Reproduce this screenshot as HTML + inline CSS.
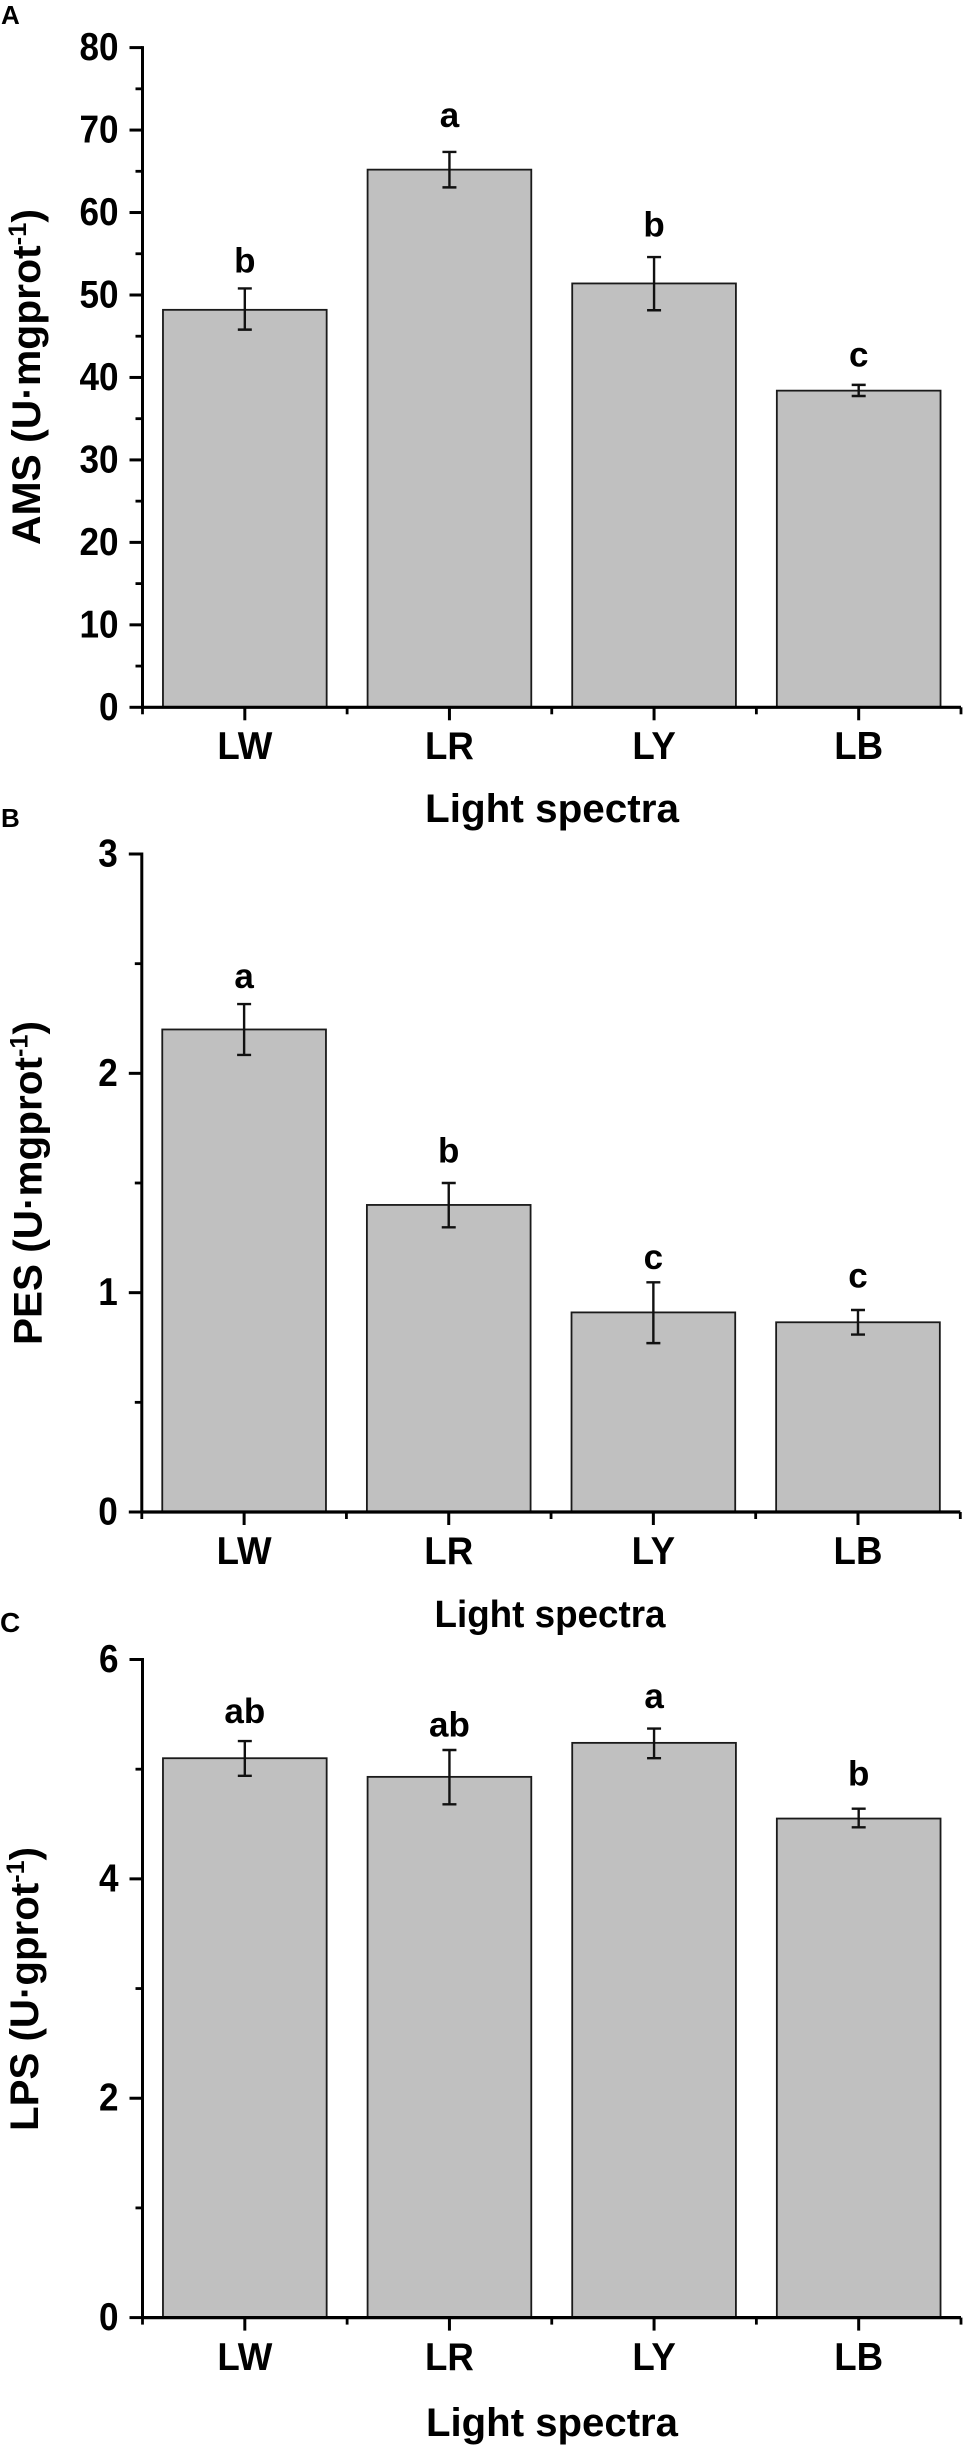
<!DOCTYPE html>
<html lang="en">
<head>
<meta charset="utf-8">
<title>Enzyme activity under light spectra</title>
<style>
html,body{margin:0;padding:0;background:#fff;}
svg{display:block;}
text{font-family:"Liberation Sans",Arial,sans-serif;font-weight:700;fill:#000;}
</style>
</head>
<body>
<svg id="figure" xmlns="http://www.w3.org/2000/svg" width="963" height="2445" viewBox="0 0 963 2445">
  <rect x="0" y="0" width="963" height="2445" fill="#fff"/>
  <text x="1" y="24" font-size="26">A</text>
  <text x="1" y="827" font-size="26">B</text>
  <text x="0" y="1632" font-size="28">C</text>

  <text transform="translate(40,377) rotate(-90)" text-anchor="middle" font-size="40" textLength="336" lengthAdjust="spacingAndGlyphs">AMS (U·mgprot<tspan dy="-14" font-size="25">-1</tspan><tspan dy="14">)</tspan></text>
  <text transform="translate(41.5,1183) rotate(-90)" text-anchor="middle" font-size="40" textLength="324" lengthAdjust="spacingAndGlyphs">PES (U·mgprot<tspan dy="-14" font-size="25">-1</tspan><tspan dy="14">)</tspan></text>
  <text transform="translate(38,1989) rotate(-90)" text-anchor="middle" font-size="40" textLength="284" lengthAdjust="spacingAndGlyphs">LPS (U·gprot<tspan dy="-14" font-size="25">-1</tspan><tspan dy="14">)</tspan></text>

  <text x="552" y="822" text-anchor="middle" font-size="40" textLength="254" lengthAdjust="spacingAndGlyphs">Light spectra</text>
  <text x="550" y="1627" text-anchor="middle" font-size="38" textLength="231" lengthAdjust="spacingAndGlyphs">Light spectra</text>
  <text x="552" y="2436" text-anchor="middle" font-size="40" textLength="252" lengthAdjust="spacingAndGlyphs">Light spectra</text>
</svg>
<script>
// Shared categories
const categories = ['LW', 'LR', 'LY', 'LB'];

// Panel A: AMS
const amsTicks = [0, 10, 20, 30, 40, 50, 60, 70, 80];
const amsValues = [48.2, 65.2, 51.4, 38.4];
const amsErrLow = [45.8, 63.05, 48.15, 37.75];
const amsErrHigh = [50.8, 67.35, 54.6, 39.1];
const amsLetters = ['b', 'a', 'b', 'c'];
const amsLetterAt = [52.7, 70.4, 57.1, 41.3];

// Panel B: PES
const pesTicks = [0, 1, 2, 3];
const pesValues = [2.2, 1.4, 0.91, 0.865];
const pesErrLow = [2.084, 1.298, 0.77, 0.809];
const pesErrHigh = [2.316, 1.5, 1.047, 0.921];
const pesLetters = ['a', 'b', 'c', 'c'];
const pesLetterAt = [2.388, 1.593, 1.109, 1.023];

// Panel C: LPS
const lpsTicks = [0, 2, 4, 6];
const lpsValues = [5.1, 4.93, 5.24, 4.55];
const lpsErrLow = [4.94, 4.68, 5.1, 4.47];
const lpsErrHigh = [5.256, 5.175, 5.37, 4.64];
const lpsLetters = ['ab', 'ab', 'a', 'b'];
const lpsLetterAt = [5.42, 5.3, 5.56, 4.85];

const svg = document.getElementById('figure');
const NS = 'http://www.w3.org/2000/svg';

function mk(tag, attrs, parent) {
  const el = document.createElementNS(NS, tag);
  for (const k in attrs) el.setAttribute(k, attrs[k]);
  parent.appendChild(el);
  return el;
}

function drawPanel(id, ticks, values, errLow, errHigh, letters, letterAt, box) {
  const maxV = ticks[ticks.length - 1];
  const yScale = v => box.bottom - v * (box.bottom - box.top) / maxV;
  const step = box.width / categories.length;
  const xScale = i => box.left + (i + 0.5) * step;

  const g = mk('g', {}, svg);
  
  

  values.forEach((v, i) => {
    const cx = xScale(i);
    const w = step * 0.8;
    const bar = mk('rect', {
      x: cx - w / 2, y: yScale(v), width: w, height: box.bottom - yScale(v),
      fill: '#c0c0c0', stroke: '#1a1a1a', 'stroke-width': 1.8
    }, g);
    
    

    const yHi = yScale(errHigh[i]);
    const yLo = yScale(errLow[i]);
    const err = mk('path', {
      d: 'M' + (cx - 7) + ' ' + yHi + 'H' + (cx + 7) + 'M' + cx + ' ' + yHi + 'V' + yLo + 'M' + (cx - 7) + ' ' + yLo + 'H' + (cx + 7),
      fill: 'none', stroke: '#111', 'stroke-width': 2.4
    }, g);
    
    

    const sig = mk('text', {
      x: cx, y: yScale(letterAt[i]), 'text-anchor': 'middle', 'font-size': 35
    }, g);
    sig.textContent = letters[i];
    
    

    const tick = mk('line', {
      x1: cx, x2: cx, y1: box.bottom, y2: box.bottom + 13, stroke: '#000', 'stroke-width': 3
    }, g);
    
    

    const lab = mk('text', {
      transform: 'translate(' + cx + ',' + box.labelY + ') scale(0.94,1)', 'text-anchor': 'middle', 'font-size': 39
    }, g);
    lab.textContent = categories[i];
    
    
  });

  for (let i = 0; i <= categories.length; i++) {
    const minorX = mk('line', {
      x1: box.left + i * step, x2: box.left + i * step, y1: box.bottom, y2: box.bottom + 7,
      stroke: '#000', 'stroke-width': 2.8
    }, g);
    
    
  }

  ticks.forEach((t, i) => {
    const major = mk('line', {
      x1: box.left - 13, x2: box.left, y1: yScale(t), y2: yScale(t), stroke: '#000', 'stroke-width': 3
    }, g);
    
    

    const lab = mk('text', {
      transform: 'translate(' + (box.left - 24) + ',' + (yScale(t) + 12.5) + ') scale(0.9,1)', 'text-anchor': 'end', 'font-size': 39
    }, g);
    lab.textContent = String(t);
    
    

    if (i < ticks.length - 1) {
      const mid = (t + ticks[i + 1]) / 2;
      const minor = mk('line', {
        x1: box.left - 7, x2: box.left, y1: yScale(mid), y2: yScale(mid), stroke: '#000', 'stroke-width': 2.8
      }, g);
      
      
    }
  });

  const yAxis = mk('line', {
    x1: box.left, x2: box.left, y1: box.top - 1.5, y2: box.bottom + 1.5, stroke: '#000', 'stroke-width': 3
  }, g);
  
  

  const xAxis = mk('line', {
    x1: box.left, x2: box.left + box.width, y1: box.bottom, y2: box.bottom, stroke: '#000', 'stroke-width': 3.2
  }, g);
  
  
}

drawPanel('ams', amsTicks, amsValues, amsErrLow, amsErrHigh, amsLetters, amsLetterAt,
  { left: 142.5, width: 818.5, top: 47.6, bottom: 707.3, labelY: 759 });
drawPanel('pes', pesTicks, pesValues, pesErrLow, pesErrHigh, pesLetters, pesLetterAt,
  { left: 141.8, width: 818.5, top: 854, bottom: 1512, labelY: 1564 });
drawPanel('lps', lpsTicks, lpsValues, lpsErrLow, lpsErrHigh, lpsLetters, lpsLetterAt,
  { left: 142.5, width: 818.5, top: 1659.5, bottom: 2317.6, labelY: 2370 });
</script>
</body>
</html>
